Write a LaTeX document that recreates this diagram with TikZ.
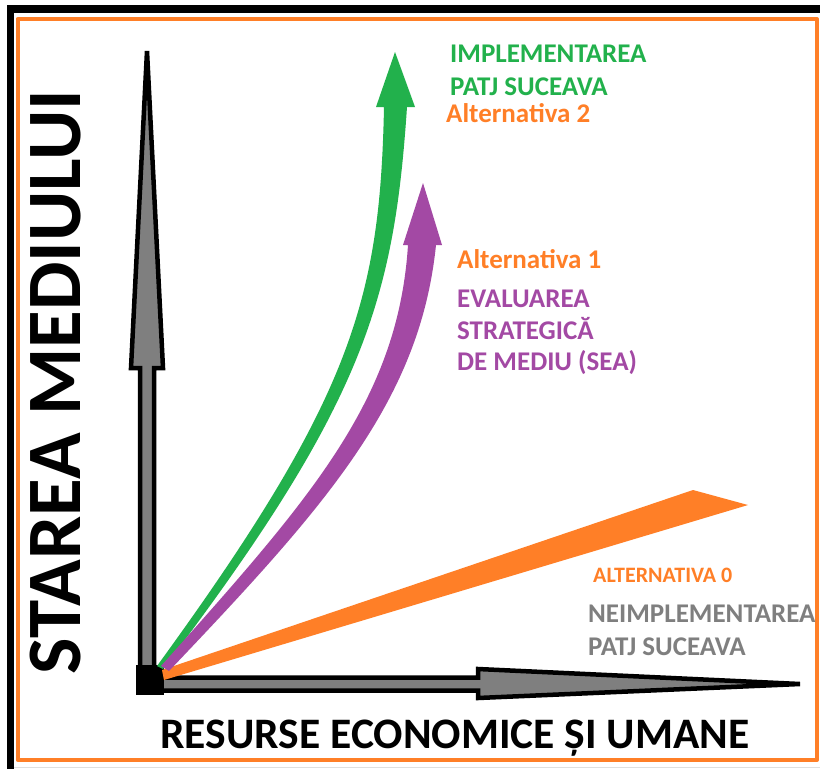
\documentclass[tikz,border=0pt]{standalone}
\usepackage{fontspec}
\setmainfont{Carlito}
\usepackage{tikz}
\usepackage{xcolor}
\definecolor{altGreen}{HTML}{22B14C}
\definecolor{altPurple}{HTML}{A349A4}
\definecolor{altOrange}{HTML}{FF7F27}
\definecolor{axisGray}{HTML}{7F7F7F}

\begin{document}
\begin{tikzpicture}[x=1pt, y=-1pt, line join=round,
    lbl/.style={anchor=base west, inner sep=0pt,
        font=\bfseries\fontsize{27}{30}\selectfont},
    axisarrow/.style={draw=black, line width=4.5pt, fill=axisGray, line join=miter}]
    \useasboundingbox (0,0) rectangle (820,769);
    \fill[white] (0,0) rectangle (820,769);
    \draw[line width=8pt] (7,9) -- (820,9);
    \draw[line width=7pt] (10.5,5) -- (10.5,769);
    \draw[gray!25, line width=1pt] (14,767) -- (820,767);
    \draw[altOrange, line width=4pt] (17.5,19) rectangle (817,760);
    \draw[axisarrow] (140,670) -- (140,368) -- (131,368) -- (147,51)
        -- (163,368) -- (154,368) -- (154,670) -- cycle;
    \draw[axisarrow] (160,677.5) -- (478,677.5) -- (478,669) -- (800,684)
        -- (478,698) -- (478,690.5) -- (160,690.5) -- cycle;
    \fill[black] (136,665) rectangle (164,695);
    \fill[altOrange] (162,670) -- (693,490) -- (748,505) -- (164,680) -- cycle;
    \fill[altGreen] (157,666) .. controls (352,398) and (380,300) .. (384,107)
        -- (376,107) -- (395,52) -- (415,107) -- (407,107)
        .. controls (394,300) and (364,404) .. (163,669) -- cycle;
    \fill[altPurple] (161,666) .. controls (312,497) and (398,400) .. (408,245)
        -- (403,245) -- (423,183) -- (442,245) -- (436,245)
        .. controls (420,400) and (328,504) .. (169,671) -- cycle;
    \node[lbl, text=altGreen] (implTitle) at (450,62) {IMPLEMENTAREA};
    \node[lbl, text=altGreen] (implPatj) at (450,95) {PATJ SUCEAVA};
    \node[lbl, text=altOrange] (alt2) at (446,122) {Alternativa 2};
    \node[lbl, text=altOrange] (alt1) at (457,268) {Alternativa 1};
    \node[lbl, text=altPurple] (seaA) at (457,307) {EVALUAREA};
    \node[lbl, text=altPurple] (seaB) at (457,339) {STRATEGICĂ};
    \node[lbl, text=altPurple] (seaC) at (457,370) {DE MEDIU (SEA)};
    \node[lbl, text=altOrange, font=\bfseries\fontsize{22}{25}\selectfont]
        (alt0) at (593,582) {ALTERNATIVA 0};
    \node[lbl, text=axisGray] (neimplA) at (588,622) {NEIMPLEMENTAREA};
    \node[lbl, text=axisGray] (neimplB) at (588,655) {PATJ SUCEAVA};
    \node[anchor=base, inner sep=0pt, font=\bfseries\fontsize{43.5}{48}\selectfont]
        (xTitle) at (455,748) {RESURSE ECONOMICE ȘI UMANE};
    \node[anchor=base, inner sep=0pt, rotate=90,
        font=\bfseries\fontsize{77}{80}\selectfont]
        (yTitle) at (80,382) {STAREA MEDIULUI};
\end{tikzpicture}
\end{document}
